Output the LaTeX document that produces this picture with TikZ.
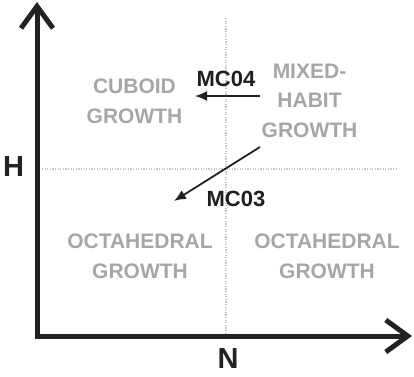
\documentclass[tikz,border=0pt]{standalone}
\usepackage{fontspec}
\setmainfont{Liberation Sans}
\usetikzlibrary{arrows.meta}
\definecolor{axiscol}{HTML}{222222}
\definecolor{regioncol}{HTML}{A6A6A6}
\definecolor{gridcol}{HTML}{C8C8C8}
\definecolor{labelcol}{HTML}{1E1E1E}
\tikzset{
  axisline/.style={draw=axiscol, line width=5pt, line join=miter,
    {Straight Barb[length=22pt,width=32pt,line width=5pt]}-{Straight Barb[length=22pt,width=32pt,line width=5pt]}},
  gridline/.style={draw=gridcol, line width=1.2pt, dash pattern=on 1.2pt off 1.4pt},
  regiontext/.style={text=regioncol, font=\bfseries\fontsize{21}{29.5}\selectfont, align=center, inner sep=0pt},
  sampletext/.style={text=labelcol, font=\bfseries\fontsize{22}{26}\selectfont, inner sep=0pt},
  axistext/.style={text=axiscol, font=\bfseries\fontsize{29}{32}\selectfont, inner sep=0pt},
  shiftarrow/.style={draw=axiscol, line width=1.8pt, -{Latex[length=12pt,width=10pt]}}
}
\begin{document}
\begin{tikzpicture}[x=1pt,y=-1pt]
\useasboundingbox (0,0) rectangle (414,376);
% axes
\coordinate (ytop) at (37,2);
\coordinate (origin) at (37,336);
\coordinate (xend) at (412,336);
% grid
\coordinate (vtop) at (226,18);
\coordinate (vbot) at (226,334);
\coordinate (hleft) at (42,169);
\coordinate (hright) at (396,169);
\draw[gridline] (vtop) -- (vbot);
\draw[gridline] (hleft) -- (hright);
\draw[axisline] (ytop) -- (origin) -- (xend);
% axis labels
\node[axistext] (H) at (13.5,167) {H};
\node[axistext] (N) at (228,358.5) {N};
% region labels
\node[regiontext] (cuboid) at (134.5,101.5) {CUBOID\\GROWTH};
\node[regiontext] (mixed) at (309.5,100.5) {MIXED-\\HABIT\\GROWTH};
\node[regiontext] (octl) at (140,256.5) {OCTAHEDRAL\\GROWTH};
\node[regiontext] (octr) at (327,256.5) {OCTAHEDRAL\\GROWTH};
% samples
\node[sampletext] (mc04) at (226,79) {MC04};
\node[sampletext] (mc03) at (236,199) {MC03};
\coordinate (a1s) at (260,96);
\coordinate (a1e) at (195,96);
\coordinate (a2s) at (260,147);
\coordinate (a2e) at (174,201);
\draw[shiftarrow] (a1s) -- (a1e);
\draw[shiftarrow] (a2s) -- (a2e);
\end{tikzpicture}
\end{document}
